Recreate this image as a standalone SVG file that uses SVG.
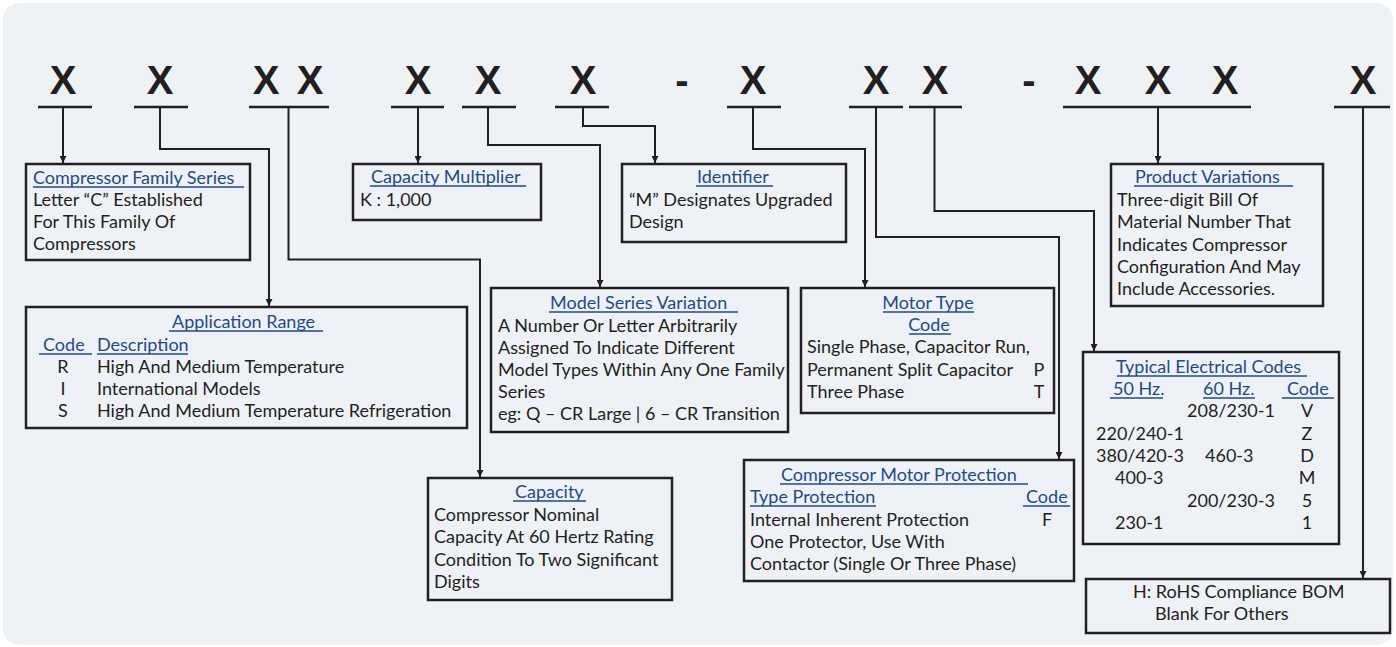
<svg xmlns="http://www.w3.org/2000/svg" width="1396" height="647" viewBox="0 0 1396 647">
<defs>
<marker id="arr" viewBox="0 0 10 10" refX="10" refY="5" markerWidth="7" markerHeight="7" markerUnits="userSpaceOnUse" orient="auto">
<path d="M0,0 L10,5 L0,10 Z" fill="#231f20"/>
</marker>
<style>
.bg{fill:#eef2f7}
.x{font-family:"Liberation Sans",Arial,sans-serif;font-weight:bold;font-size:40px;fill:#231f20;text-anchor:middle}
.ul{stroke:#231f20;stroke-width:2.5}
.c{fill:none;stroke:#231f20;stroke-width:2}
.box{fill:none;stroke:#231f20;stroke-width:2.5}
.t{font-family:Lato,"Open Sans",sans-serif;font-size:18px;fill:#231f20}
.h{font-family:Lato,"Open Sans",sans-serif;font-size:18px;fill:#1f4a8a}
.hu{stroke:#1f4a8a;stroke-width:1.3}
.m{text-anchor:middle}
</style>
</defs>
<rect x="0" y="0" width="1396" height="647" fill="#ffffff"/>
<rect class="bg" x="3" y="3" width="1390" height="642" rx="16"/>
<g id="code">
<text class="x" x="63" y="94">X</text>
<text class="x" x="160" y="94">X</text>
<text class="x" x="266" y="94">X</text>
<text class="x" x="310" y="94">X</text>
<text class="x" x="418" y="94">X</text>
<text class="x" x="488" y="94">X</text>
<text class="x" x="583" y="94">X</text>
<text class="x" x="682" y="94">-</text>
<text class="x" x="753" y="94">X</text>
<text class="x" x="876" y="94">X</text>
<text class="x" x="935" y="94">X</text>
<text class="x" x="1029" y="94">-</text>
<text class="x" x="1088" y="94">X</text>
<text class="x" x="1158" y="94">X</text>
<text class="x" x="1225" y="94">X</text>
<text class="x" x="1363" y="94">X</text>
<line class="ul" x1="38" y1="107" x2="92" y2="107"/>
<line class="ul" x1="134" y1="107" x2="188" y2="107"/>
<line class="ul" x1="249" y1="107" x2="329" y2="107"/>
<line class="ul" x1="391" y1="107" x2="444" y2="107"/>
<line class="ul" x1="462" y1="107" x2="516" y2="107"/>
<line class="ul" x1="555" y1="107" x2="609" y2="107"/>
<line class="ul" x1="727" y1="107" x2="781" y2="107"/>
<line class="ul" x1="849" y1="107" x2="903" y2="107"/>
<line class="ul" x1="909" y1="107" x2="962" y2="107"/>
<line class="ul" x1="1063" y1="107" x2="1251" y2="107"/>
<line class="ul" x1="1334" y1="107" x2="1390" y2="107"/>
</g>
<g id="connectors">
<path class="c" d="M63,107 V163" marker-end="url(#arr)"/>
<path class="c" d="M160,107 V149 H269 V306" marker-end="url(#arr)"/>
<path class="c" d="M288.5,107 V259.5 H480 V477" marker-end="url(#arr)"/>
<path class="c" d="M418,107 V163" marker-end="url(#arr)"/>
<path class="c" d="M488,107 V145 H600 V287" marker-end="url(#arr)"/>
<path class="c" d="M583,107 V126 H655 V163" marker-end="url(#arr)"/>
<path class="c" d="M753,107 V149 H865 V287" marker-end="url(#arr)"/>
<path class="c" d="M876,107 V237 H1059 V459" marker-end="url(#arr)"/>
<path class="c" d="M934.5,107 V211 H1094 V351" marker-end="url(#arr)"/>
<path class="c" d="M1158,107 V163" marker-end="url(#arr)"/>
<path class="c" d="M1363,107 V578" marker-end="url(#arr)"/>
</g>
<g id="family">
<rect class="box" x="26" y="164" width="224" height="96"/>
<text class="h" x="33" y="184">Compressor Family Series</text>
<line class="hu" x1="33" y1="187" x2="244" y2="187"/>
<text class="t" x="33" y="206">Letter “C” Established</text>
<text class="t" x="33" y="228">For This Family Of</text>
<text class="t" x="33" y="250">Compressors</text>
</g>
<g id="multiplier">
<rect class="box" x="353" y="164" width="188" height="56"/>
<text class="h" x="371" y="183">Capacity Multiplier</text>
<line class="hu" x1="370" y1="186" x2="526" y2="186"/>
<text class="t" x="360" y="206">K : 1,000</text>
</g>
<g id="identifier">
<rect class="box" x="622" y="164" width="224" height="78"/>
<text class="h" x="697" y="183">Identifier</text>
<line class="hu" x1="696" y1="186" x2="773" y2="186"/>
<text class="t" x="629" y="206">“M” Designates Upgraded</text>
<text class="t" x="629" y="228">Design</text>
</g>
<g id="product">
<rect class="box" x="1111" y="164" width="212" height="142"/>
<text class="h" x="1135" y="183">Product  Variations</text>
<line class="hu" x1="1134" y1="186" x2="1293" y2="186"/>
<text class="t" x="1117" y="206">Three-digit Bill Of</text>
<text class="t" x="1117" y="228">Material Number That</text>
<text class="t" x="1117" y="251">Indicates Compressor</text>
<text class="t" x="1117" y="273">Configuration And May</text>
<text class="t" x="1117" y="295">Include Accessories.</text>
</g>
<g id="application">
<rect class="box" x="26" y="307" width="441" height="121"/>
<text class="h" x="172" y="328">Application Range</text>
<line class="hu" x1="169" y1="331" x2="323" y2="331"/>
<text class="h" x="43" y="351">Code</text>
<line class="hu" x1="39" y1="354" x2="92" y2="354"/>
<text class="h" x="97" y="351">Description</text>
<line class="hu" x1="97" y1="354" x2="188" y2="354"/>
<text class="t m" x="63" y="373">R</text>
<text class="t" x="97" y="373">High And Medium Temperature</text>
<text class="t m" x="63" y="395">I</text>
<text class="t" x="97" y="395">International Models</text>
<text class="t m" x="63" y="417">S</text>
<text class="t" x="97" y="417">High And Medium Temperature Refrigeration</text>
</g>
<g id="model">
<rect class="box" x="491" y="288" width="297" height="144"/>
<text class="h" x="550" y="309">Model  Series Variation</text>
<line class="hu" x1="549" y1="312" x2="738" y2="312"/>
<text class="t" x="498" y="332">A Number Or Letter Arbitrarily</text>
<text class="t" x="498" y="354">Assigned To Indicate Different</text>
<text class="t" x="498" y="376">Model Types Within Any One Family</text>
<text class="t" x="498" y="398">Series</text>
<text class="t" x="498" y="420">eg: Q – CR Large  |  6 – CR Transition</text>
</g>
<g id="motor">
<rect class="box" x="801" y="288" width="253" height="125"/>
<text class="h m" x="928" y="309">Motor Type</text>
<line class="hu" x1="883" y1="312" x2="974" y2="312"/>
<text class="h m" x="929" y="331">Code</text>
<line class="hu" x1="909" y1="334" x2="951" y2="334"/>
<text class="t" x="807" y="353">Single Phase, Capacitor Run,</text>
<text class="t" x="807" y="376">Permanent Split Capacitor</text>
<text class="t m" x="1039" y="376">P</text>
<text class="t" x="807" y="398">Three Phase</text>
<text class="t m" x="1039" y="398">T</text>
</g>
<g id="electrical">
<rect class="box" x="1083" y="352" width="256" height="192"/>
<text class="h" x="1116" y="373">Typical Electrical Codes</text>
<line class="hu" x1="1117" y1="376" x2="1307" y2="376"/>
<text class="h" x="1113" y="395">50 Hz.</text>
<line class="hu" x1="1110" y1="398" x2="1163" y2="398"/>
<text class="h" x="1203" y="395">60 Hz.</text>
<line class="hu" x1="1203" y1="398" x2="1255" y2="398"/>
<text class="h" x="1287" y="395">Code</text>
<line class="hu" x1="1282" y1="398" x2="1334" y2="398"/>
<text class="t" x="1187" y="417">208/230-1</text>
<text class="t m" x="1307" y="417">V</text>
<text class="t" x="1096" y="440">220/240-1</text>
<text class="t m" x="1307" y="440">Z</text>
<text class="t" x="1096" y="462">380/420-3</text>
<text class="t" x="1205" y="462">460-3</text>
<text class="t m" x="1307" y="462">D</text>
<text class="t" x="1115" y="484">400-3</text>
<text class="t m" x="1307" y="484">M</text>
<text class="t" x="1187" y="507">200/230-3</text>
<text class="t m" x="1307" y="507">5</text>
<text class="t" x="1115" y="529">230-1</text>
<text class="t m" x="1307" y="529">1</text>
</g>
<g id="capacity">
<rect class="box" x="428" y="478" width="244" height="122"/>
<text class="h" x="515" y="498">Capacity</text>
<line class="hu" x1="513" y1="501" x2="586" y2="501"/>
<text class="t" x="434" y="521">Compressor Nominal</text>
<text class="t" x="434" y="543">Capacity At 60 Hertz Rating</text>
<text class="t" x="434" y="566">Condition To Two Significant</text>
<text class="t" x="434" y="588">Digits</text>
</g>
<g id="protection">
<rect class="box" x="744" y="460" width="330" height="121"/>
<text class="h" x="781" y="481">Compressor Motor Protection</text>
<line class="hu" x1="780" y1="484" x2="1028" y2="484"/>
<text class="h" x="750" y="503">Type Protection</text>
<line class="hu" x1="750" y1="506" x2="876" y2="506"/>
<text class="h" x="1026" y="503">Code</text>
<line class="hu" x1="1023" y1="506" x2="1070" y2="506"/>
<text class="t" x="750" y="526">Internal Inherent Protection</text>
<text class="t m" x="1047" y="526">F</text>
<text class="t" x="750" y="548">One Protector, Use With</text>
<text class="t" x="750" y="570">Contactor (Single Or Three Phase)</text>
</g>
<g id="rohs">
<rect class="box" x="1086" y="579" width="304" height="54"/>
<text class="t" x="1133" y="598">H: RoHS Compliance BOM</text>
<text class="t" x="1155" y="620">Blank For Others</text>
</g>
</svg>
